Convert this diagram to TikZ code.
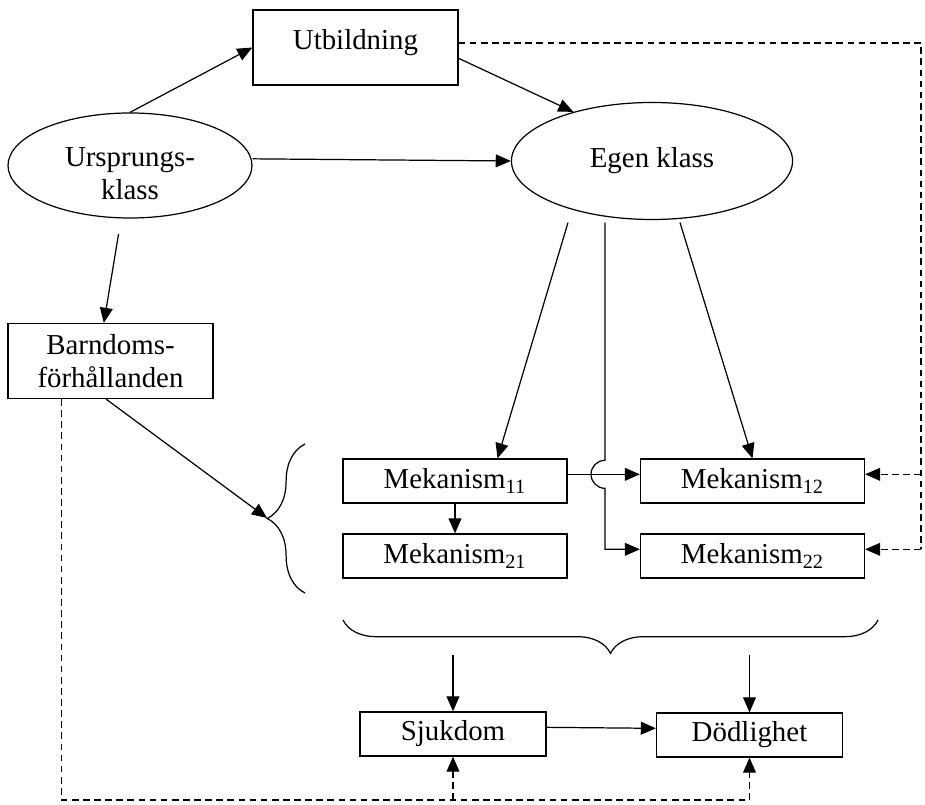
\documentclass[tikz,border=0pt]{standalone}
\usepackage{fontspec}
\setmainfont{Liberation Serif}
\usetikzlibrary{arrows.meta, positioning, shapes.geometric, calc, decorations.pathreplacing}

\begin{document}
\begin{tikzpicture}[x=0.45pt, y=-0.45pt, line width=0.55pt,
      font=\fontsize{13}{15}\selectfont,
      >={Triangle[length=6.8pt, width=5.8pt]},
      box/.style={rectangle, draw, inner sep=0pt, align=center},
      oval/.style={ellipse, draw, inner sep=0pt, align=center},
      mek/.style={box, minimum width=100.8pt, minimum height=19.8pt},
      outcome/.style={box, minimum width=83.7pt, minimum height=19.8pt},
      dashline/.style={dash pattern=on 3pt off 2pt},
      curly/.style={decorate, decoration={brace, amplitude=#1}}]

      \useasboundingbox (0,0) rectangle (925,805);

      \node[box, minimum width=92.25pt, minimum height=33.75pt] (utb) at (355.5,47.5) {Utbildning\rule[-7pt]{0pt}{7pt}};
      \node[oval, minimum width=109.8pt, minimum height=47.25pt] (urs) at (130,165.5) {\rule{0pt}{16pt}Ursprungs-\\klass};
      \node[oval, minimum width=126.5pt, minimum height=52.65pt] (egen) at (652,161) {Egen klass};
      \node[box, minimum width=92.25pt, minimum height=33.75pt] (barn) at (110.5,361) {Barndoms-\\förhållanden};

      \node[mek] (m11) at (455,481) {Mekanism\textsubscript{11}};
      \node[mek] (m21) at (455,556) {Mekanism\textsubscript{21}};
      \node[mek] (m12) at (752.5,481) {Mekanism\textsubscript{12}};
      \node[mek] (m22) at (752.5,556) {Mekanism\textsubscript{22}};

      \node[outcome] (sjuk) at (453,734) {Sjukdom};
      \node[outcome] (dod) at (749.5,735) {Dödlighet};

      % braces round the mechanisms
      \draw[curly=17pt] (305,593) -- (305,444);
      \draw[curly=15pt] (878,620) -- (343,620);
      \coordinate (ltip) at (267,518);
      \coordinate (btip) at (610,655);

      % Ursprungsklass
      \draw[->] (urs.north) -- (utb.west);
      \draw[->] ([yshift=3pt]urs.east) -- (egen.west);
      \draw[->, shorten <=7pt] ([xshift=-4pt]urs.south) -- ([xshift=-3pt]barn.north);
      \draw[->] (utb.-6) -- (egen.148);
      \draw[->] ([xshift=-2pt]barn.south) -- (ltip);

      % Egen klass to the mechanisms
      \coordinate (eL) at ($(egen.south)+(-84,2.5)$);
      \coordinate (eM) at ($(egen.south)+(-47,2.5)$);
      \coordinate (eR) at ($(egen.south)+(28,2.5)$);
      \draw[->] (eL) -- (m11.28);
      \draw[->] (eR) -- (m12.north);
      \coordinate (x11) at ([yshift=3pt]m11.east);
      \coordinate (hop) at (eM |- x11);
      \draw[->] (x11) -- (x11 -| m12.west);
      \draw[->] (eM) -- ([yshift=6.3pt]hop) arc[start angle=90, end angle=270, radius=6.3pt]
        |- ([yshift=3pt]m22.west);
      \draw[->] (m11) -- (m21);

      % outcomes
      \foreach \m in {sjuk, dod} {
        \draw[->] (\m.north |- btip) -- (\m.north);
      }
      \draw[->] ([yshift=3pt]sjuk.east) -- ([yshift=3pt]dod.west);

      % dashed direct paths
      \coordinate (rt) at (921,0);
      \coordinate (bt) at (0,800);
      \coordinate (a12) at ([yshift=3pt]m12.east);
      \coordinate (a22) at ([yshift=3pt]m22.east);
      \draw[dashline] ([yshift=2pt]utb.east) -| (a22 -| rt);
      \foreach \m in {a12, a22} {
        \draw[dashline, ->] (\m -| rt) -- (\m);
      }
      \draw[dashline] ([xshift=-22pt]barn.south) |- (dod.south |- bt);
      \foreach \m in {sjuk, dod} {
        \draw[dashline, ->] (\m.south |- bt) -- (\m.south);
      }
\end{tikzpicture}
\end{document}
